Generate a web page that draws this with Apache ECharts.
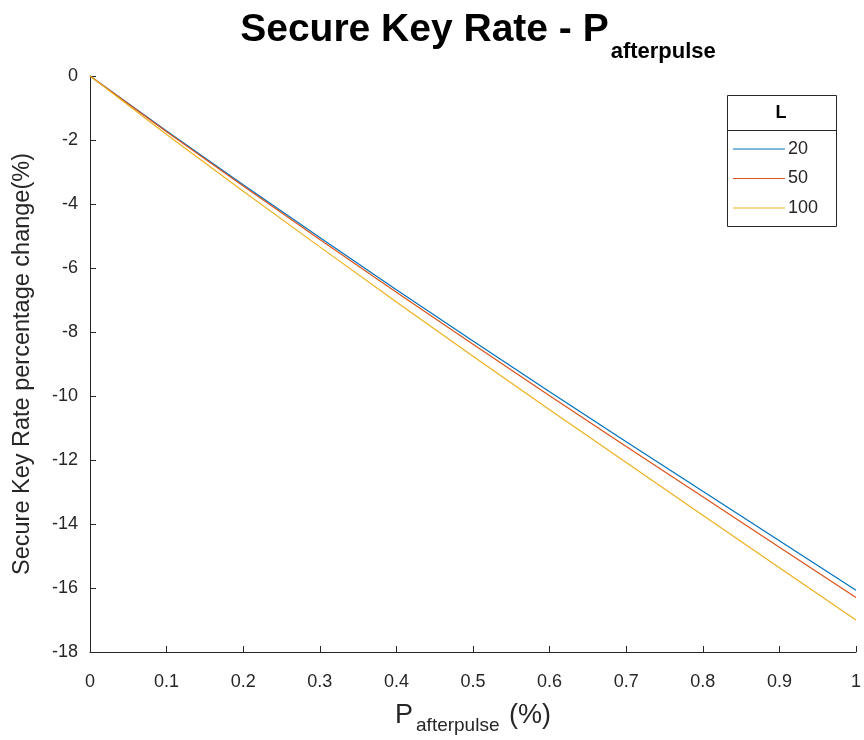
<!DOCTYPE html>
<html>
<head>
<meta charset="utf-8">
<script src="https://cdn.jsdelivr.net/npm/echarts@6/dist/echarts.min.js"></script>
<style>html,body{margin:0;padding:0;background:#fff;}#c{width:864px;height:740px;}</style>
</head>
<body>
<div id="c"></div>
<script>
// Data
var pValues = [0, 0.1, 0.2, 0.3, 0.4, 0.5, 0.6, 0.7, 0.8, 0.9, 1.0];
var seriesNames = ['20', '50', '100'];
var rateL20  = [0, -1.72, -3.40, -5.05, -6.68, -8.28, -9.87, -11.43, -12.98, -14.52, -16.07];
var rateL50  = [0, -1.74, -3.44, -5.11, -6.76, -8.38, -9.99, -11.58, -13.15, -14.73, -16.30];
var rateL100 = [0, -1.83, -3.60, -5.34, -7.06, -8.76, -10.43, -12.08, -13.73, -15.37, -17.00];
var colors = ['#0072BD', '#D95319', '#EDB120'];

function pairs(ys) { return pValues.map(function (x, i) { return [x, ys[i]]; }); }
var allSeries = [rateL20, rateL50, rateL100];

var chart = echarts.init(document.getElementById('c'));
var txt = '#262626';
var ff = 'Liberation Sans, Arial';
chart.setOption({
  animation: false,
  backgroundColor: '#fff',
  color: colors,
  title: {
    text: '{a|Secure Key Rate - P}{b|afterpulse}',
    left: 473, top: 6, textAlign: 'center',
    textStyle: {
      rich: {
        a: { fontFamily: ff, fontSize: 39, fontWeight: 'bold', color: '#000', verticalAlign: 'top', lineHeight: 42 },
        b: { fontFamily: ff, fontSize: 22, fontWeight: 'bold', color: '#000', verticalAlign: 'top', lineHeight: 22, padding: [30, 0, 0, 2] }
      }
    }
  },
  grid: { left: 90, right: 4, top: 76, bottom: 86, containLabel: false },
  xAxis: {
    type: 'value', min: 0, max: 1, interval: 0.1,
    name: '{p|P}{s|afterpulse}{p| (%)}',
    nameLocation: 'middle', nameGap: 50,
    nameTextStyle: {
      rich: {
        p: { fontFamily: ff, fontSize: 27, color: txt, verticalAlign: 'top', lineHeight: 30 },
        s: { fontFamily: ff, fontSize: 19, color: txt, verticalAlign: 'top', lineHeight: 19, padding: [14, 2, 0, 3] }
      }
    },
    axisLine: { show: true, onZero: false, lineStyle: { color: txt, width: 1 } },
    axisTick: { show: true, inside: true, length: 6, lineStyle: { color: txt } },
    axisLabel: { fontFamily: ff, fontSize: 18, color: txt, margin: 21,
      formatter: function (v) { return String(+v.toFixed(1)); } },
    splitLine: { show: false }
  },
  yAxis: {
    type: 'value', min: -18, max: 0, interval: 2,
    name: 'Secure Key Rate percentage change(%)',
    nameLocation: 'middle', nameGap: 55,
    nameTextStyle: { fontFamily: ff, fontSize: 23.5, color: txt },
    axisLine: { show: true, onZero: false, lineStyle: { color: txt, width: 1 } },
    axisTick: { show: true, inside: true, length: 6, lineStyle: { color: txt } },
    axisLabel: { fontFamily: ff, fontSize: 18, color: txt, margin: 12 },
    splitLine: { show: false }
  },
  legend: {
    orient: 'vertical', left: 728, top: 135,
    itemWidth: 52, itemHeight: 10, itemGap: 11.5,
    data: seriesNames,
    textStyle: { fontFamily: ff, fontSize: 18, color: txt, padding: [0, 0, 0, -2] },
    icon: 'path://M0,5 L52,5 L52,6 L0,6 Z'
  },
  graphic: [
    { type: 'rect', z: 1, shape: { x: 727.5, y: 95.5, width: 109, height: 131 }, style: { fill: '#fff', stroke: txt, lineWidth: 1 } },
    { type: 'line', z: 2, shape: { x1: 727.5, y1: 130.5, x2: 836.5, y2: 130.5 }, style: { stroke: txt, lineWidth: 1 } },
    { type: 'text', z: 3, x: 781, y: 113, style: { text: 'L', font: 'bold 18px Liberation Sans, Arial', fill: '#000', textAlign: 'center', textVerticalAlign: 'middle' } }
  ],
  series: allSeries.map(function (ys, i) {
    return { name: seriesNames[i], type: 'line', data: pairs(ys), symbol: 'none', lineStyle: { width: 1.2, color: colors[i] }, itemStyle: { color: colors[i] } };
  })
});
</script>
</body>
</html>
